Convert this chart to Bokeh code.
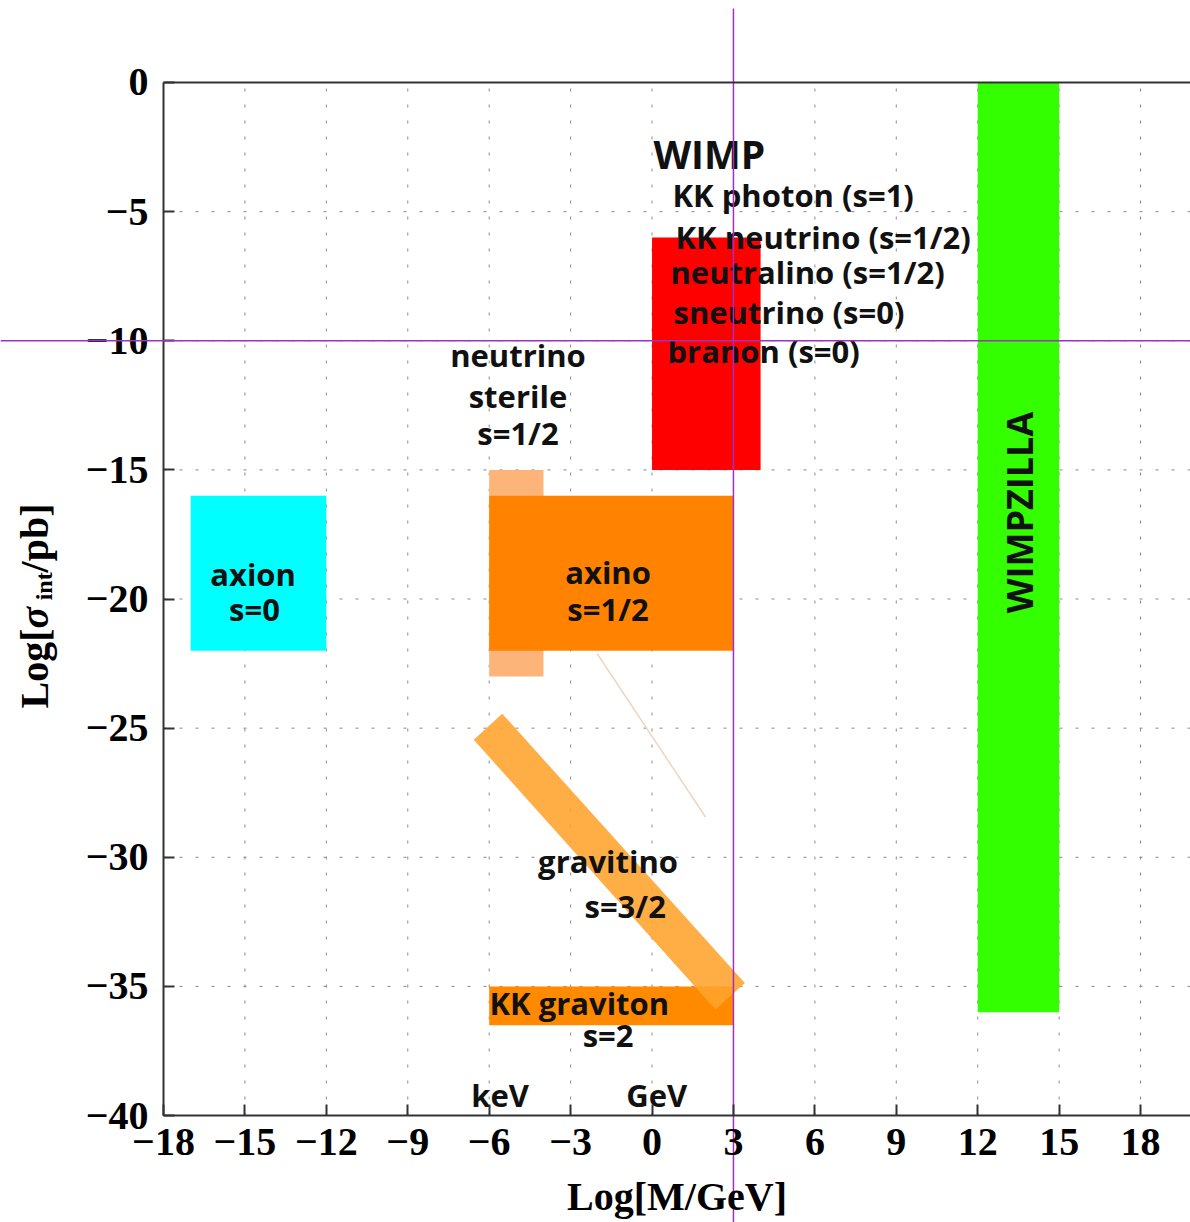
import math
from bokeh.plotting import figure
from bokeh.models import Range1d, LinearAxis, FixedTicker, Label, Span, ColumnDataSource
from bokeh.embed import file_html
from bokeh.resources import INLINE
from bokeh.core.properties import value

# ---------------- data ----------------
region_names = ["axion", "neutrino sterile", "axino", "WIMP", "WIMPZILLA", "KK graviton"]
region_logm_min = [-17, -6, -6, 0, 12, -6]
region_logm_max = [-12, -4, 3, 4, 15, 3]
region_logsig_min = [-22, -23, -22, -15, -36, -36.5]
region_logsig_max = [-16, -15, -16, -6, 0, -35]
region_colors = ["#00FFFF", "#FDB478", "#FF8300", "#FF0000", "#33FF00", "#FF8A00"]

gravitino_logm = [-6.57, -5.52, 3.42, 2.34]
gravitino_logsig = [-25.45, -24.44, -34.87, -35.89]

trace_logm = [-2.02, 1.97]
trace_logsig = [-22.12, -28.44]

cross_logm = 3
cross_logsig = -10

x_ticks = [-18, -15, -12, -9, -6, -3, 0, 3, 6, 9, 12, 15, 18]
y_ticks = [0, -5, -10, -15, -20, -25, -30, -35, -40]
x_lo, x_hi = -18, 19.84
y_lo, y_hi = -40, 0

# left-aligned labels (WIMP list etc.)
left_text = ["WIMP", "KK photon (s=1)", "KK neutrino (s=1/2)", "neutralino (s=1/2)",
             "sneutrino (s=0)", "branon (s=0)", "KK graviton"]
left_x = [0.05, 0.755, 0.865, 0.68, 0.79, 0.57, -5.99]
left_y = [-2.75, -4.34, -6.00, -7.32, -8.87, -10.41, -35.66]
left_size = ["39px", "31px", "31px", "31px", "31px", "31px", "31px"]

# centred labels
center_text = ["neutrino", "sterile", "s=1/2", "axion", "s=0", "axino", "s=1/2",
               "gravitino", "s=3/2", "s=2", "keV", "GeV"]
center_x = [-4.94, -4.94, -4.94, -14.70, -14.65, -1.62, -1.62, -1.62, -0.99, -1.62, -5.60, 0.17]
center_y = [-10.57, -12.12, -13.59, -19.04, -20.4, -18.97, -20.4, -30.16, -31.9, -36.89, -39.21, -39.21]

rot_text = ["WIMPZILLA"]
rot_x = [13.54]
rot_y = [-16.65]


def minus(v):
    return "\u2212" + str(abs(v)) if v < 0 else str(v)


# ---------------- figure (frame = whole canvas) ----------------
p = figure(width=1190, height=1222,
           x_range=Range1d(-24.006, 19.84), y_range=Range1d(-44.142, 3.175),
           output_backend="svg", toolbar_location=None, min_border=0)
p.title.visible = False
p.outline_line_color = None
p.background_fill_color = "white"
p.border_fill_color = "white"
p.xgrid.visible = False
p.ygrid.visible = False

serif = "Liberation Serif"
xa, ya = p.xaxis[0], p.yaxis[0]
xa.fixed_location = y_lo
xa.bounds = (x_lo, x_hi)
ya.fixed_location = x_lo
ya.bounds = (y_lo, y_hi)
for ax, ticks in ((xa, x_ticks), (ya, y_ticks)):
    ax.ticker = FixedTicker(ticks=ticks)
    ax.major_label_overrides = {t: minus(t) for t in ticks}
    ax.major_label_text_font = serif
    ax.major_label_text_font_style = "bold"
    ax.major_label_text_font_size = "40px"
    ax.major_label_text_color = "black"
    ax.axis_line_color = "#333333"
    ax.axis_line_width = 2
    ax.major_tick_in = 11
    ax.major_tick_out = 0
    ax.major_tick_line_color = "#333333"
    ax.major_tick_line_width = 2
    ax.minor_tick_line_color = None

xa.major_label_standoff = 13
ya.major_label_standoff = 15
xa.axis_label = "Log[M/GeV]"
xa.axis_label_text_font = serif
xa.axis_label_text_font_style = "bold"
xa.axis_label_text_font_size = "40px"
xa.axis_label_text_color = "black"
xa.axis_label_standoff = 16

top_axis = LinearAxis(fixed_location=y_hi, bounds=(x_lo, x_hi),
                      ticker=FixedTicker(ticks=[]), major_label_text_font_size="0px",
                      axis_line_color="#333333", axis_line_width=2,
                      major_tick_line_color=None, minor_tick_line_color=None)
p.add_layout(top_axis, "above")

# ---------------- grid (dashed, inside the axes box) ----------------
vx = [t for t in x_ticks if t != x_lo]
p.segment(x0=vx, x1=vx, y0=[y_lo] * len(vx), y1=[y_hi] * len(vx),
          line_color="#8a8a8a", line_dash="3 13", line_width=1)
hy = [t for t in y_ticks if t not in (y_lo, y_hi)]
p.segment(x0=[x_lo] * len(hy), x1=[x_hi] * len(hy), y0=hy, y1=hy,
          line_color="#8a8a8a", line_dash="3 13", line_width=1)

# ---------------- regions ----------------
src = ColumnDataSource(dict(left=region_logm_min, right=region_logm_max,
                            bottom=region_logsig_min, top=region_logsig_max,
                            color=region_colors, name=region_names))
p.quad(left="left", right="right", bottom="bottom", top="top", color="color",
       line_width=0, source=src)

p.patch(gravitino_logm, gravitino_logsig, fill_color="#FFA32C", fill_alpha=0.88,
        line_color=None)
p.line(trace_logm, trace_logsig, line_color="#EFD6BE", line_width=1.5)

# ---------------- texts ----------------
sans = value("Open Sans")
p.text(x="x", y="y", text="text", text_font_size="size",
       source=ColumnDataSource(dict(x=left_x, y=left_y, text=left_text, size=left_size)),
       text_font=sans, text_font_style="bold", text_color="#111111",
       text_align="left", text_baseline="alphabetic")
p.text(x=center_x, y=center_y, text=center_text, text_font=sans, text_font_style="bold",
       text_font_size="31px", text_color="#111111", text_align="center",
       text_baseline="alphabetic")
p.text(x=rot_x, y=rot_y, text=rot_text, angle=math.pi / 2, text_font=sans,
       text_font_style="bold", text_font_size="36px", text_color="#111111",
       text_align="center", text_baseline="alphabetic")

# ---------------- y axis title (with subscript) ----------------
ylab = [("Log[", -22.74, -24.24, "40px", "bold"),
        ("\u03c3", -22.74, -21.14, "40px", "bold italic"),
        ("int", -22.42, -20.05, "24px", "bold"),
        ("/pb]", -22.74, -18.97, "40px", "bold")]
for t, xx, yy, sz, st in ylab:
    p.add_layout(Label(x=xx, y=yy, text=t, angle=math.pi / 2, text_font=serif,
                       text_font_size=sz, text_font_style=st, text_color="black",
                       text_align="left", text_baseline="alphabetic"))

# ---------------- crosshair ----------------
p.segment(x0=[cross_logm], x1=[cross_logm], y0=[2.865], y1=[-44.142],
          line_color="#A030C0", line_width=1.5)
p.add_layout(Span(location=cross_logsig, dimension="width", line_color="#A030C0", line_width=1.5))

open("out.html", "w").write(file_html(p, INLINE))
